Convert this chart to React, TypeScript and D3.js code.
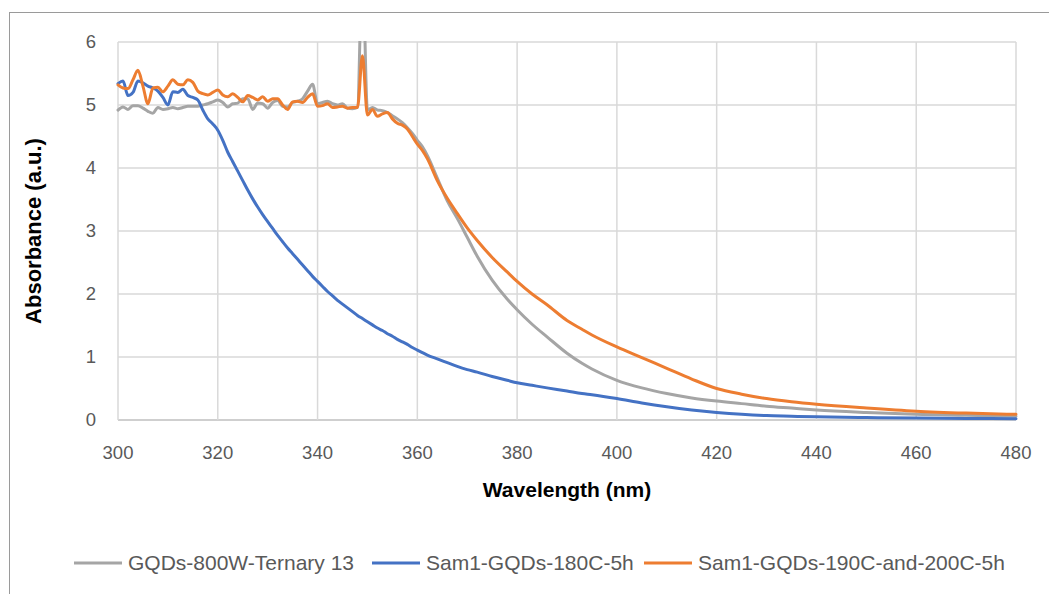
import React from "react";
import * as d3 from "d3";

const wavelengths: number[] = [
  300, 301, 302, 303, 304, 305, 306, 307, 308, 309,
  310, 311, 312, 313, 314, 315, 316, 317, 318, 319,
  320, 321, 322, 323, 324, 325, 326, 327, 328, 329,
  330, 331, 332, 333, 334, 335, 336, 337, 338, 339,
  340, 341, 342, 343, 344, 345, 346, 347, 348, 349,
  350, 351, 352, 353, 354, 355, 356, 357, 358, 359,
  360, 361, 362,
  364, 366, 368, 370, 372, 375, 378, 380, 383, 386,
  390, 393, 395, 400, 405, 410, 415, 420, 425, 430,
  435, 440, 450, 460, 470, 480,
];

const grayValues: number[] = [
  4.92, 4.97, 4.93, 4.99, 4.99, 4.95, 4.90, 4.87, 4.96, 4.93,
  4.94, 4.96, 4.94, 4.96, 4.98, 4.98, 4.98, 5.00, 5.02, 5.05,
  5.08, 5.04, 4.97, 5.02, 5.03, 5.10, 5.10, 4.93, 5.03, 5.02,
  4.95, 5.04, 5.07, 4.98, 4.97, 5.04, 5.06, 5.10, 5.22, 5.33,
  5.02, 5.04, 5.06, 5.02, 5.00, 5.02, 4.95, 4.94, 4.96, 7.20,
  4.92, 4.96, 4.92, 4.91, 4.88, 4.83, 4.78, 4.72, 4.64, 4.55,
  4.44, 4.34, 4.20,
  3.84, 3.48, 3.20, 2.90, 2.60, 2.22, 1.92, 1.75, 1.52, 1.32,
  1.06, 0.90, 0.81, 0.63, 0.51, 0.42, 0.35, 0.30, 0.26, 0.22,
  0.19, 0.16, 0.12, 0.09, 0.075, 0.06,
];

const blueValues: number[] = [
  5.34, 5.38, 5.15, 5.20, 5.38, 5.35, 5.30, 5.27, 5.22, 5.12,
  5.00, 5.21, 5.20, 5.25, 5.15, 5.12, 5.08, 4.92, 4.78, 4.70,
  4.60, 4.44, 4.25, 4.10, 3.95, 3.80, 3.65, 3.51, 3.38, 3.26,
  3.15, 3.04, 2.93, 2.83, 2.73, 2.64, 2.55, 2.46, 2.37, 2.28,
  2.20, 2.12, 2.04, 1.97, 1.90, 1.84, 1.78, 1.72, 1.66, 1.61,
  1.56, 1.51, 1.46, 1.42, 1.37, 1.33, 1.28, 1.24, 1.20, 1.15,
  1.11, 1.07, 1.03,
  0.97, 0.91, 0.85, 0.80, 0.76, 0.69, 0.63, 0.59, 0.55, 0.51,
  0.46, 0.42, 0.40, 0.34, 0.27, 0.21, 0.16, 0.12, 0.09, 0.07,
  0.06, 0.05, 0.04, 0.03, 0.025, 0.02,
];

const orangeValues: number[] = [
  5.32, 5.27, 5.26, 5.40, 5.55, 5.30, 5.02, 5.27, 5.28, 5.21,
  5.30, 5.40, 5.33, 5.32, 5.40, 5.36, 5.22, 5.18, 5.16, 5.20,
  5.24, 5.16, 5.13, 5.18, 5.12, 5.05, 5.15, 5.12, 5.08, 5.13,
  5.06, 5.10, 5.10, 5.00, 4.93, 5.05, 5.06, 5.04, 5.12, 5.18,
  4.98, 4.99, 5.02, 4.96, 4.97, 4.98, 4.95, 4.96, 4.96, 5.78,
  4.84, 4.93, 4.82, 4.86, 4.88, 4.78, 4.71, 4.68, 4.62, 4.50,
  4.38, 4.28, 4.15,
  3.80, 3.52, 3.28, 3.05, 2.85, 2.58, 2.35, 2.20, 2.00, 1.83,
  1.58, 1.44, 1.35, 1.16, 0.99, 0.82, 0.65, 0.50, 0.41, 0.34,
  0.29, 0.25, 0.19, 0.14, 0.11, 0.09,
];

const seriesNames: string[] = [
  "GQDs-800W-Ternary 13",
  "Sam1-GQDs-180C-5h",
  "Sam1-GQDs-190C-and-200C-5h",
];
const seriesColors: string[] = ["#a5a5a5", "#4472c4", "#ed7d31"];
const seriesValues: number[][] = [grayValues, blueValues, orangeValues];

const xTicks: number[] = [300, 320, 340, 360, 380, 400, 420, 440, 460, 480];
const yTicks: number[] = [0, 1, 2, 3, 4, 5, 6];

const xTitle = "Wavelength (nm)";
const yTitle = "Absorbance (a.u.)";

const W = 1049;
const H = 594;
const plot = { left: 118, right: 1016, top: 42, bottom: 420 };
const FONT = "'Liberation Sans', Arial, sans-serif";

export default function App() {
  const x = d3.scaleLinear().domain([300, 480]).range([plot.left, plot.right]);
  const y = d3.scaleLinear().domain([0, 6]).range([plot.bottom, plot.top]);

  const line = d3
    .line<[number, number]>()
    .x((d) => x(d[0]))
    .y((d) => y(d[1]))
    .curve(d3.curveMonotoneX);

  const legendItems = [
    { lineX: 74, textX: 128 },
    { lineX: 372, textX: 426 },
    { lineX: 644, textX: 698 },
  ];

  return (
    <svg
      width={W}
      height={H}
      style={{ position: "absolute", left: 0, top: 0, background: "#fff" }}
      fontFamily={FONT}
    >
      <defs>
        <clipPath id="plotClip">
          <rect
            x={plot.left - 5}
            y={plot.top - 1}
            width={plot.right - plot.left + 10}
            height={plot.bottom - plot.top + 10}
          />
        </clipPath>
      </defs>
      <rect x={0} y={0} width={W} height={H} fill="#fff" />
      <rect
        x={9.5}
        y={12.5}
        width={W + 20}
        height={H + 20}
        fill="none"
        stroke="#9a9a9a"
        strokeWidth={1}
      />

      {/* gridlines */}
      {yTicks.map((t) => (
        <line
          key={"gy" + t}
          x1={plot.left}
          x2={plot.right}
          y1={y(t)}
          y2={y(t)}
          stroke={t === 0 ? "#bfbfbf" : "#d9d9d9"}
          strokeWidth={1.5}
        />
      ))}
      {xTicks.map((t) => (
        <line
          key={"gx" + t}
          x1={x(t)}
          x2={x(t)}
          y1={plot.top}
          y2={plot.bottom}
          stroke="#d9d9d9"
          strokeWidth={1.5}
        />
      ))}

      {/* tick labels */}
      {yTicks.map((t) => (
        <text
          key={"ty" + t}
          x={plot.left - 22}
          y={y(t)}
          dy="0.35em"
          textAnchor="end"
          fontSize={18.5}
          fill="#595959"
        >
          {t}
        </text>
      ))}
      {xTicks.map((t) => (
        <text
          key={"tx" + t}
          x={x(t)}
          y={453}
          dy="0.35em"
          textAnchor="middle"
          fontSize={18.5}
          fill="#595959"
        >
          {t}
        </text>
      ))}

      {/* axis titles */}
      <text
        x={(plot.left + plot.right) / 2}
        y={490}
        dy="0.35em"
        textAnchor="middle"
        fontSize={21}
        fontWeight="bold"
        fill="#000"
      >
        {xTitle}
      </text>
      <text
        transform={`translate(33, ${(plot.top + plot.bottom) / 2}) rotate(-90)`}
        dy="0.35em"
        textAnchor="middle"
        fontSize={22}
        fontWeight="bold"
        fill="#000"
      >
        {yTitle}
      </text>

      {/* series */}
      <g clipPath="url(#plotClip)">
        {seriesValues.map((vals, i) => (
          <path
            key={"s" + i}
            d={line(wavelengths.map((w, j) => [w, vals[j]] as [number, number])) || ""}
            fill="none"
            stroke={seriesColors[i]}
            strokeWidth={3}
            strokeLinejoin="round"
            strokeLinecap="round"
          />
        ))}
      </g>

      {/* legend */}
      {legendItems.map((it, i) => (
        <g key={"l" + i}>
          <line
            x1={it.lineX}
            x2={it.lineX + 48}
            y1={563}
            y2={563}
            stroke={seriesColors[i]}
            strokeWidth={3}
          />
          <text x={it.textX} y={563} dy="0.35em" fontSize={21} fill="#595959">
            {seriesNames[i]}
          </text>
        </g>
      ))}
    </svg>
  );
}
